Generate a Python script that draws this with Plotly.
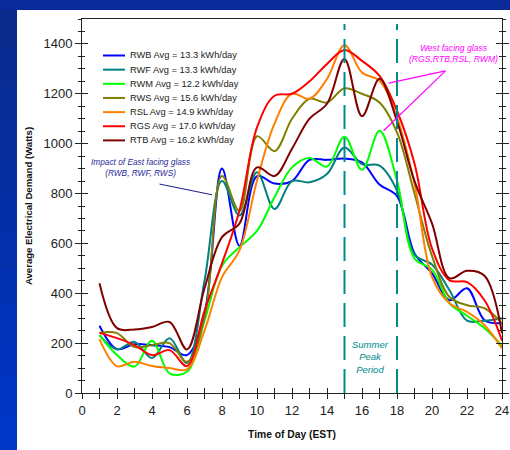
import plotly.graph_objects as go

hours = list(range(1, 25))
rwb = [270, 176, 196, 192, 184, 152, 320, 900, 590, 870, 840, 850, 935, 935, 940, 925, 836, 790, 560, 480, 372, 420, 292, 280]
rwf = [232, 175, 205, 140, 220, 120, 450, 850, 712, 885, 738, 850, 845, 878, 985, 918, 912, 812, 555, 515, 412, 290, 290, 300]
rwm = [232, 152, 106, 210, 79, 85, 290, 510, 585, 650, 785, 905, 943, 908, 1028, 895, 1052, 852, 540, 495, 360, 310, 260, 190]
rws = [241, 240, 184, 192, 200, 125, 300, 870, 730, 1030, 970, 1100, 1180, 1165, 1222, 1200, 1165, 1045, 800, 550, 385, 352, 340, 280]
rsl = [216, 108, 125, 108, 100, 95, 250, 465, 572, 852, 1080, 1200, 1180, 1260, 1395, 1285, 1252, 1105, 840, 465, 360, 325, 272, 180]
rgs = [241, 220, 192, 152, 172, 108, 330, 520, 732, 1065, 1192, 1200, 1250, 1320, 1376, 1332, 1272, 1132, 920, 580, 452, 445, 372, 210]
rtb = [440, 260, 255, 265, 285, 175, 420, 625, 680, 905, 870, 980, 1100, 1160, 1340, 1110, 1260, 1090, 850, 680, 460, 490, 470, 240]

names = ["RWB", "RWF", "RWM", "RWS", "RSL", "RGS", "RTB"]
avgs = ["13.3", "13.3", "12.2", "15.6", "14.9", "17.0", "16.2"]
colors = ["#0000FF", "#008080", "#00FF00", "#808000", "#FF8000", "#FF0000", "#800000"]
series = [rwb, rwf, rwm, rws, rsl, rgs, rtb]

peak_start, peak_end = 15, 18
x_ticks = list(range(0, 25, 2))
y_ticks = list(range(0, 1401, 200))

W, H = 510, 450
ml, mr, mt, mb = 82, 8, 19, 57
pw, ph = W - ml - mr, H - mt - mb

def px_x(px):
    return (px - ml) / pw

def px_y(py):
    return (H - mb - py) / ph

fig = go.Figure()
for name, vals, col in zip(names, series, colors):
    fig.add_trace(go.Scatter(x=hours, y=vals, mode="lines", name=name,
                             line=dict(color=col, width=2, shape="spline", smoothing=1.0),
                             showlegend=False))
# invisible trace on overlay axes so inside ticks are drawn
fig.add_trace(go.Scatter(x=hours, y=rwb, xaxis="x2", yaxis="y2", mode="lines",
                         line=dict(width=0), opacity=0, showlegend=False, hoverinfo="skip"))

shapes = []
# white card over the blue frame
shapes.append(dict(type="rect", xref="paper", yref="paper", x0=px_x(17), x1=px_x(W + 5),
                   y0=px_y(H + 5), y1=px_y(10), fillcolor="white", line=dict(width=0), layer="below"))
# left strip gradient
nb = 12
for i in range(nb):
    y0p = 10 + (H - 10) * i / nb
    y1p = 10 + (H - 10) * (i + 1) / nb
    t = i / (nb - 1)
    r = int(0x0a + (0x00 - 0x0a) * t)
    g = int(0x2a + (0x36 - 0x2a) * t)
    b = int(0x8c + (0xc8 - 0x8c) * t)
    shapes.append(dict(type="rect", xref="paper", yref="paper", x0=px_x(-2), x1=px_x(17),
                       y0=px_y(y1p), y1=px_y(y0p), fillcolor=f"rgb({r},{g},{b})",
                       line=dict(width=0), layer="below"))
# summer peak lines
for xv in (peak_start, peak_end):
    shapes.append(dict(type="line", xref="x", yref="y", x0=xv, x1=xv, y0=0, y1=1480,
                       line=dict(color="#008B8B", width=2, dash="24px,9px")))
# annotation leader lines
shapes.append(dict(type="line", xref="x", yref="y", x0=4.43, y0=838, x1=7.43, y1=795,
                   line=dict(color="#1a1a8c", width=1)))
shapes.append(dict(type="line", xref="x", yref="y", x0=20.77, y0=1292, x1=17.52, y1=1243,
                   line=dict(color="#FF00FF", width=1.2)))
shapes.append(dict(type="line", xref="x", yref="y", x0=20.77, y0=1292, x1=17.23, y1=1052,
                   line=dict(color="#FF00FF", width=1.2)))

annotations = []
# legend entries
for i, (name, avg, col) in enumerate(zip(names, avgs, colors)):
    yp = px_y(55.5 + 14.15 * i)
    shapes.append(dict(type="line", xref="paper", yref="paper", x0=px_x(103), x1=px_x(125),
                       y0=yp, y1=yp, line=dict(color=col, width=2)))
    annotations.append(dict(xref="paper", yref="paper", x=px_x(128), y=yp, xanchor="left",
                            yanchor="middle", showarrow=False,
                            text=f"{name} Avg = {avg} kWh/day",
                            font=dict(family="Liberation Sans, Arial", size=9.3, color="#222222")))

annotations.append(dict(xref="x", yref="y", x=3.35, y=903, showarrow=False,
                        text="<i>Impact of East facing glass<br>(RWB, RWF, RWS)</i>",
                        font=dict(family="Liberation Sans, Arial", size=8.3, color="#2b2b99")))
annotations.append(dict(xref="x", yref="y", x=21.2, y=1360, showarrow=False,
                        text="<i>West facing glass<br>(RGS,RTB,RSL, RWM)</i>",
                        font=dict(family="Liberation Sans, Arial", size=8.6, color="#FF00FF")))
annotations.append(dict(xref="x", yref="y", x=16.5, y=146, showarrow=False,
                        text="<i>Summer<br>Peak<br>Period</i>",
                        font=dict(family="Liberation Sans, Arial", size=9.5, color="#008B8B")))

axis_font = dict(family="Liberation Sans, Arial", size=13, color="#222222")
fig.update_layout(
    template="none",
    width=W, height=H,
    margin=dict(l=ml, r=mr, t=mt, b=mb, autoexpand=False),
    paper_bgcolor="#0a2c9a", plot_bgcolor="white",
    shapes=shapes, annotations=annotations,
    xaxis=dict(range=[0, 24], tickvals=x_ticks, ticks="outside", ticklen=5, tickwidth=1,
               tickcolor="#222", showline=True, linecolor="#222", linewidth=1, mirror=True,
               showgrid=False, zeroline=False, tickfont=axis_font, automargin=False,
               minor=dict(dtick=1, ticks="outside", ticklen=5, tickcolor="#222", showgrid=False),
               title=dict(text="<b>Time of Day (EST)</b>", standoff=14,
                          font=dict(family="Liberation Sans, Arial", size=10.3, color="#111"))),
    yaxis=dict(range=[0, 1500], tickvals=y_ticks, ticks="outside", ticklen=6, tickwidth=1,
               tickcolor="#222", showline=True, linecolor="#222", linewidth=1, mirror="ticks",
               showgrid=False, zeroline=False, tickfont=axis_font, automargin=False,
               minor=dict(dtick=50, ticks="outside", ticklen=3, tickcolor="#222", showgrid=False),
               title=dict(text="<b>Average Electrical Demand (Watts)</b>", standoff=9,
                          font=dict(family="Liberation Sans, Arial", size=9.6, color="#111"))),
    xaxis2=dict(range=[0, 24], overlaying="x", anchor="y2", showticklabels=False,
                tickvals=x_ticks, ticks="inside", ticklen=5, tickcolor="#222", showgrid=False,
                zeroline=False, showline=False, automargin=False,
                minor=dict(dtick=1, ticks="inside", ticklen=5, tickcolor="#222", showgrid=False)),
    yaxis2=dict(range=[0, 1500], overlaying="y", anchor="x2", side="left", showticklabels=False,
                tickvals=y_ticks, ticks="inside", ticklen=6, tickcolor="#222", mirror="ticks",
                showgrid=False, zeroline=False, showline=False, automargin=False,
                minor=dict(dtick=50, ticks="inside", ticklen=3, tickcolor="#222", showgrid=False)),
)

fig.write_html("out.html", config={"displayModeBar": False},
               post_script="document.body.style.margin='0';document.body.style.overflow='hidden';")
